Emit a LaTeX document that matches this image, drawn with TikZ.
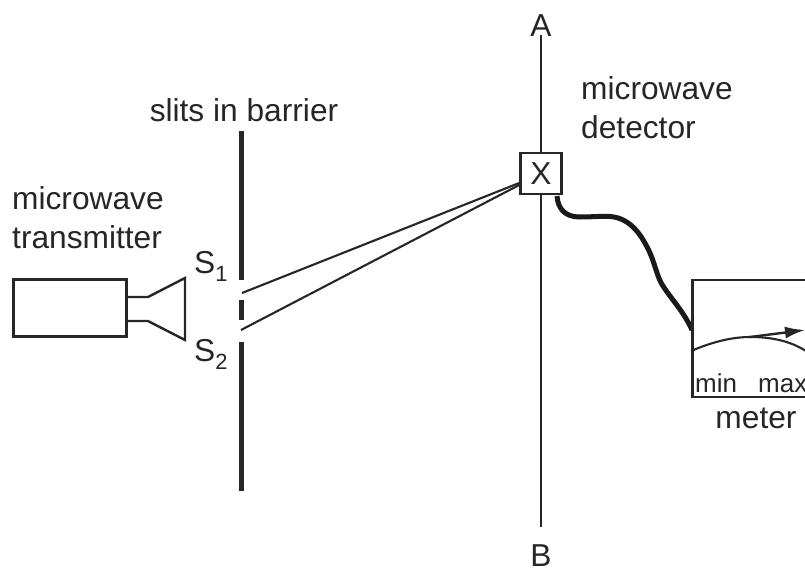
\documentclass[tikz,border=0pt]{standalone}
\usepackage{fontspec}
\setmainfont{Liberation Sans}
\usetikzlibrary{arrows.meta,positioning,calc}
\tikzset{
    lbl/.style={inner sep=0pt,align=left,text=black!85,font=\fontsize{31.7}{38.5}\selectfont},
    smalllbl/.style={inner sep=0pt,text=black!85,font=\fontsize{26}{30}\selectfont},
    box/.style={draw=black!85,line width=2.6pt,inner sep=0pt,anchor=north west},
    wire/.style={draw=black!85,line width=2.1pt},
    barrier/.style={draw=black!85,line width=5pt},
    needle/.style={wire,line width=2.4pt,-{Latex[length=20pt,width=12pt]}}
}
\newcommand{\slitlabel}[1]{S\raisebox{-8pt}{\fontsize{22}{24}\selectfont #1}}

\begin{document}
\begin{tikzpicture}[x=1pt,y=-1pt]
    \useasboundingbox (0,0) rectangle (805,570);
    % axis and detector
    \coordinate (A) at (541,35);
    \coordinate (B) at (541,527);
    \draw[wire] (A) -- (B);
    \node[lbl,anchor=base] (Alabel) at (541,36) {A};
    \node[lbl,anchor=base] (Blabel) at (541,566) {B};
    \node[lbl,draw=black!85,line width=2.6pt,fill=white,minimum width=41pt,minimum height=41pt,anchor=center] (X) at (541,173.5) {X};
    \node[lbl,anchor=base west] (detector) at (581,138) {microwave\\detector};
    % barrier
    \coordinate (bar1) at (241,131);
    \coordinate (bar2) at (241,280);
    \coordinate (bar3) at (241,300);
    \coordinate (bar4) at (241,320);
    \coordinate (bar5) at (241,342);
    \coordinate (bar6) at (241,491);
    \draw[barrier] (bar1) -- (bar2);
    \draw[barrier] (bar3) -- (bar4);
    \draw[barrier] (bar5) -- (bar6);
    \node[lbl,anchor=base] (slits) at (244,121) {slits in barrier};
    \node[lbl,anchor=base west] (Sone) at (194,273) {\slitlabel{1}};
    \node[lbl,anchor=base west] (Stwo) at (194,361) {\slitlabel{2}};
    % paths to X
    \coordinate (s1) at (242,293);
    \coordinate (s2) at (241,330);
    \draw[wire] (s1) -- (X.west |- 0,183);
    \draw[wire] (s2) -- (X.west |- 0,185);
    % transmitter
    \node[box,minimum width=113pt,minimum height=57pt] (tx) at (12,278) {};
    \node[lbl,anchor=base west] (txlabel) at (12,248) {microwave\\transmitter};
    \draw[draw=black!85,line width=2.4pt,line join=miter] (tx.east |- 0,297) -- (148,297) -- (185,278) -- (185,340) -- (148,321) -- (tx.east |- 0,321);
    % cable
    \draw[draw=black!90,line width=5pt] (557,196) .. controls (558,209) and (565,217) .. (580,217)
        .. controls (592,217) and (600,216) .. (610,216.5)
        .. controls (632,218) and (643,238) .. (650,253)
        .. controls (656,267) and (657,277) .. (663,286)
        .. controls (672,300) and (684,312) .. (692,330);
    % meter
    \node[box,minimum width=120pt,minimum height=117pt] (meter) at (691,278.5) {};
    \clip (0,0) rectangle (805,570);
    \draw[wire] (meter.west |- 0,351) .. controls (712,342) and (732,337) .. (750,337)
        .. controls (772,337) and (790,341) .. (806,351);
    \draw[needle] (750,337) -- (805,330);
    \node[smalllbl,anchor=base west] (minlabel) at (695,392) {min};
    \node[smalllbl,anchor=base west] (maxlabel) at (758,392) {max};
    \node[lbl,anchor=base] (meterlabel) at (756,428) {meter};
\end{tikzpicture}
\end{document}
